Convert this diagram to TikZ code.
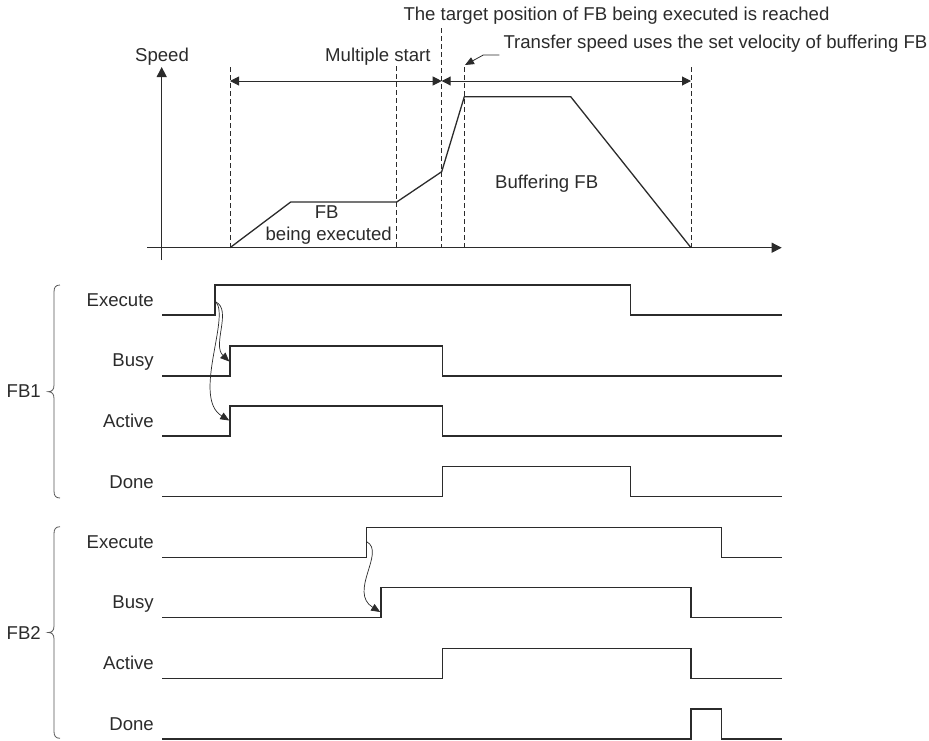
\documentclass[tikz,border=0pt]{standalone}
\usepackage{fontspec}
\setmainfont{Liberation Sans}
\usetikzlibrary{arrows.meta}
\definecolor{ink}{HTML}{2B2B2B}
\tikzset{
  sig/.style={line width=1.3pt, draw=ink, line join=miter},
  guide/.style={line width=0.8pt, draw=ink, dash pattern=on 5pt off 3pt},
  lbl/.style={font=\fontsize{18.6}{20}\selectfont, text=ink, inner sep=0pt},
  axis/.style={line width=1pt, draw=ink, -{Triangle[length=10pt,width=10pt]}},
  span/.style={line width=1pt, draw=ink, {Triangle[length=9pt,width=9pt]}-{Triangle[length=9pt,width=9pt]}},
  curv/.style={line width=0.7pt, draw=ink, -{Triangle[length=9pt,width=7.5pt]}},
  bracestyle/.style={line width=0.8pt, draw=ink!80},
}
\begin{document}
\begin{tikzpicture}[x=1pt,y=-1pt]
\useasboundingbox (0,0) rectangle (929,740);

% ---------- speed chart ----------
\draw[axis] (161.7,260) -- (161.7,67);
\draw[axis] (147,247.7) -- (781.7,247.7);
\node[lbl, anchor=base] (speedlbl) at (162,61.7) {Speed};

\draw[guide] (230,67) -- (230,247.7);
\draw[guide] (396.7,66) -- (396.7,247.7);
\draw[guide] (441.7,28) -- (441.7,247.7);
\draw[guide] (464.3,67) -- (464.3,247.7);
\draw[guide] (691,67) -- (691,247.7);

\coordinate (s0) at (230,81);
\coordinate (s1) at (441.7,81);
\coordinate (s2) at (691,81);
\draw[span] (s0) -- (s1);
\draw[span] (s1) -- (s2);

\draw[sig] (230,247.7) -- (290.7,202) -- (396.7,202) -- (441.7,171.7)
  -- (464.3,96.7) -- (570.7,96.7) -- (691,247.7);

\node[lbl, anchor=base west] (multi) at (325,61.7) {Multiple start};
\node[lbl, anchor=base west] (target) at (403.3,20.7) {The target position of FB being executed is reached};
\node[lbl, anchor=base west] (transfer) at (503.3,48) {Transfer speed uses the set velocity of buffering FB};
\coordinate (tip) at (465,65);
\draw[line width=0.8pt, draw=ink, -{Triangle[length=9pt,width=7.5pt]}]
  ([xshift=-4pt,yshift=-7pt]transfer.base west) -- ++(-16,0) -- (tip);
\node[lbl, anchor=base] (fbexec1) at (326.7,218.3) {FB};
\node[lbl, anchor=base] (fbexec2) at (328.7,240.7) {being executed};
\node[lbl, anchor=base] (buffering) at (546.7,188) {Buffering FB};

% ---------- FB1 ----------
\draw[sig] (162.3,315) -- (215,315) -- (215,285) -- (630.5,285) -- (630.5,315) -- (782,315);
\draw[sig] (162.3,376) -- (230,376) -- (230,346) -- (442.3,346) -- (442.3,376) -- (782,376);
\draw[sig] (162.3,436) -- (230,436) -- (230,406) -- (442.3,406) -- (442.3,436) -- (782,436);
\draw[sig] (162.3,496.7) -- (442.3,496.7) -- (442.3,466.7) -- (630.5,466.7) -- (630.5,496.7) -- (782,496.7);

\node[lbl, anchor=base east] (e1) at (154,306.2) {Execute};
\node[lbl, anchor=base east] (b1) at (154,366.7) {Busy};
\node[lbl, anchor=base east] (a1) at (154,427.5) {Active};
\node[lbl, anchor=base east] (d1) at (154,488) {Done};

\coordinate (x1) at (216,302);
\coordinate (bz1) at (229.3,361.5);
\coordinate (az1) at (229.3,420.5);
\draw[curv] (x1) .. controls (232,310) and (212,345) .. (bz1);
\draw[curv] (x1) .. controls (230,318) and (192,398) .. (az1);

\draw[bracestyle] (60,285) .. controls (55.5,285) and (54,287.5) .. (54,292)
  -- (54,385) .. controls (54,389.5) and (52,391.7) .. (48.3,391.7)
  .. controls (52,391.7) and (54,394) .. (54,398.5)
  -- (54,491) .. controls (54,495.5) and (55.5,498) .. (60,498);
\node[lbl, anchor=base] (fb1) at (23.7,397.9) {FB1};

% ---------- FB2 ----------
\draw[sig] (162.3,557.3) -- (366.7,557.3) -- (366.7,527.3) -- (721.7,527.3) -- (721.7,557.3) -- (782,557.3);
\draw[sig] (162.3,617.7) -- (381,617.7) -- (381,587.7) -- (691,587.7) -- (691,617.7) -- (782,617.7);
\draw[sig] (162.3,678.3) -- (442.3,678.3) -- (442.3,648.3) -- (691,648.3) -- (691,678.3) -- (782,678.3);
\draw[sig] (162.3,739) -- (691,739) -- (691,709) -- (721.7,709) -- (721.7,739) -- (782,739);

\node[lbl, anchor=base east] (e2) at (154,548.3) {Execute};
\node[lbl, anchor=base east] (b2) at (154,608.7) {Busy};
\node[lbl, anchor=base east] (a2) at (154,669.5) {Active};
\node[lbl, anchor=base east] (d2) at (154,730) {Done};

\coordinate (x2) at (366.7,541.7);
\coordinate (bz2) at (380.2,612);
\draw[curv] (x2) .. controls (386,552) and (348,592) .. (bz2);

\draw[bracestyle] (60,526.7) .. controls (55.5,526.7) and (54,529.2) .. (54,533.7)
  -- (54,626) .. controls (54,630.5) and (52,632.5) .. (48.3,632.5)
  .. controls (52,632.5) and (54,634.5) .. (54,639)
  -- (54,731.3) .. controls (54,735.8) and (55.5,738.3) .. (60,738.3);
\node[lbl, anchor=base] (fb2) at (23.7,639) {FB2};
\end{tikzpicture}
\end{document}
